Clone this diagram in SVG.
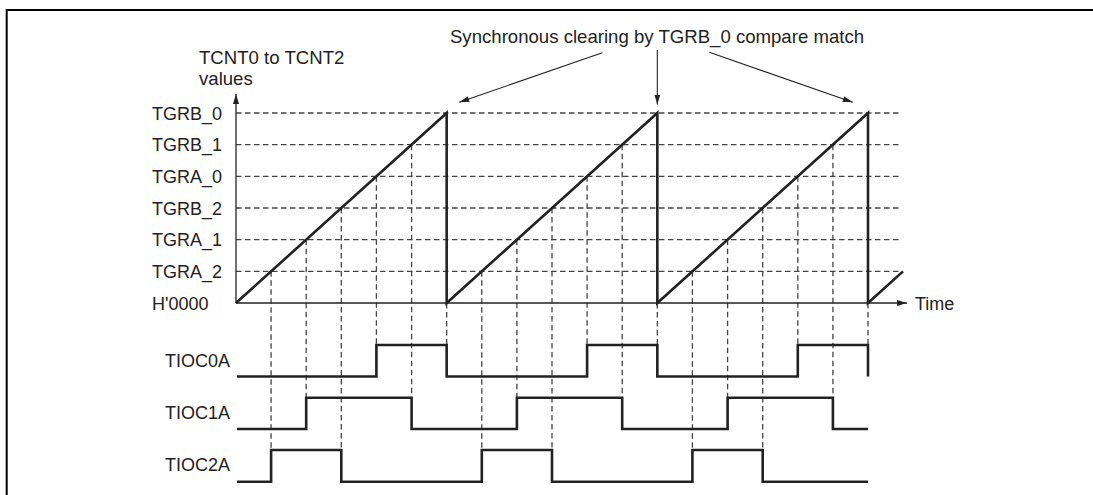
<svg xmlns="http://www.w3.org/2000/svg" width="1093" height="495" viewBox="0 0 1093 495">
<style>
text{font-family:"Liberation Sans",Arial,Helvetica,sans-serif;font-size:18px;fill:#222}
text.big{font-size:18.6px}
.frame{stroke:#000;stroke-width:2;fill:none}
.axis{stroke:#222;stroke-width:1.3;fill:none}
.grid{stroke:#444;stroke-width:1.3;stroke-dasharray:5.5 3.5;fill:none}
.ramp{stroke:#222;stroke-width:2.6;fill:none;stroke-linejoin:miter}
.wave{stroke:#222;stroke-width:2.6;fill:none;stroke-linejoin:miter}
.ann{stroke:#222;stroke-width:1.1;fill:none}
</style>
<defs>
<marker id="ah" viewBox="0 0 10 6" refX="10" refY="3" markerWidth="10" markerHeight="6" markerUnits="userSpaceOnUse" orient="auto">
<path d="M0,0 L10,3 L0,6 Z" fill="#222"/>
</marker>
</defs>
<g id="frame">
<path class="frame" d="M6.7,495 V10 H1093"/>
</g>
<g id="grid">
<path class="grid" d="M236,113 H902 M236,144.67 H902 M236,176.33 H902 M236,208 H902 M236,239.67 H902 M236,271.33 H902"/>
<path class="grid" d="M271.1,271.33 V450 M306.2,239.67 V397.7 M341.3,208 V450 M376.4,176.33 V345 M411.6,144.67 V397.7 M446.67,303 V345
M481.8,271.33 V450 M516.9,239.67 V397.7 M552,208 V450 M587.1,176.33 V345 M622.2,144.67 V397.7 M657.33,303 V345
M692.4,271.33 V450 M727.6,239.67 V397.7 M762.7,208 V450 M797.8,176.33 V345 M832.9,144.67 V397.7 M868,303 V345"/>
</g>
<g id="axes">
<path class="axis" d="M236,303 V94" marker-end="url(#ah)"/>
<path class="axis" d="M236,303 H907" marker-end="url(#ah)"/>
</g>
<g id="ramp">
<path class="ramp" d="M236,303 L446.67,113 V303 L657.33,113 V303 L868,113 V303 L903,271.4"/>
</g>
<g id="labels">
<text class="big" x="199" y="64">TCNT0 to TCNT2</text>
<text class="big" x="199" y="85">values</text>
<text x="152" y="119.5">TGRB_0</text>
<text x="152" y="151">TGRB_1</text>
<text x="152" y="182.5">TGRA_0</text>
<text x="152" y="214.5">TGRB_2</text>
<text x="152" y="246">TGRA_1</text>
<text x="152" y="277.5">TGRA_2</text>
<text x="152" y="309.5">H'0000</text>
<text x="915" y="309.5">Time</text>
<text class="big" x="657" y="42.5" text-anchor="middle">Synchronous clearing by TGRB_0 compare match</text>
</g>
<g id="TIOC0A">
<text x="165" y="367">TIOC0A</text>
<path class="wave" d="M237,376.5 H376.4 V345 H446.67 V376.5 H587.1 V345 H657.33 V376.5 H797.8 V345 H868 V376.5"/>
</g>
<g id="TIOC1A">
<text x="165" y="419">TIOC1A</text>
<path class="wave" d="M237,429 H306.2 V397.7 H411.6 V429 H516.9 V397.7 H622.2 V429 H727.6 V397.7 H832.9 V429 H868"/>
</g>
<g id="TIOC2A">
<text x="165" y="471">TIOC2A</text>
<path class="wave" d="M237,481.7 H271.1 V450 H341.3 V481.7 H481.8 V450 H552 V481.7 H692.4 V450 H762.7 V481.7 H868"/>
</g>
<g id="connectors">
<path class="ann" d="M602.3,52.7 L459.3,102.3" marker-end="url(#ah)"/>
<path class="ann" d="M657.33,50 V104.5" marker-end="url(#ah)"/>
<path class="ann" d="M709.3,52.3 L852.7,102.3" marker-end="url(#ah)"/>
</g>
</svg>
